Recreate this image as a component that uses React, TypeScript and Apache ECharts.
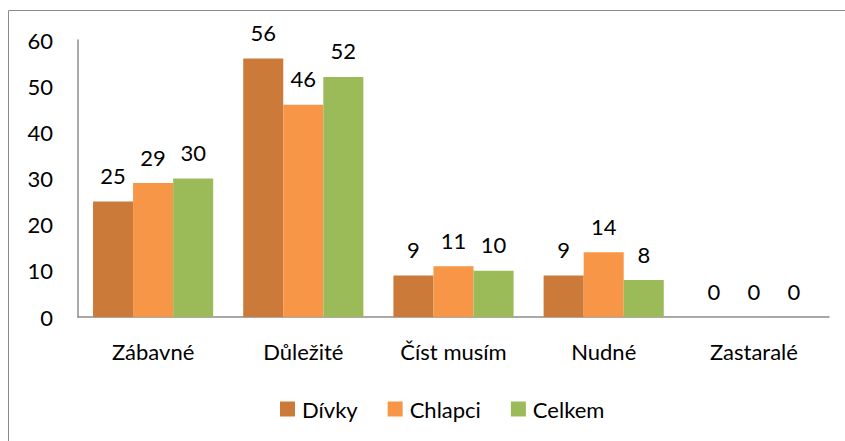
import React, { useEffect, useRef } from "react";
import * as echarts from "echarts";

const categories = ["Zábavné", "Důležité", "Číst musím", "Nudné", "Zastaralé"];
const divky = [25, 56, 9, 9, 0];
const chlapci = [29, 46, 11, 14, 0];
const celkem = [30, 52, 10, 8, 0];
const seriesNames = ["Dívky", "Chlapci", "Celkem"];
const colors = ["#CB7A3A", "#F79646", "#9BBB59"];

const FONT = "Lato, 'Noto Sans', sans-serif";
const FS = 22;

export default function App() {
  const ref = useRef<HTMLDivElement>(null);
  useEffect(() => {
    document.body.style.margin = "0";
    const chart = echarts.init(ref.current!, undefined, { renderer: "svg" });
    const data = [divky, chlapci, celkem];
    chart.setOption({
      animation: false,
      backgroundColor: "#ffffff",
      textStyle: { fontFamily: FONT },
      grid: { left: 78, right: 16, top: 40, bottom: 124 },
      legend: {
        bottom: 16,
        left: 275,
        itemWidth: 15,
        itemHeight: 15,
        itemGap: 30,
        icon: "rect",
        textStyle: { fontSize: FS, color: "#000", fontFamily: FONT, padding: [0, 0, 0, 2] },
        data: seriesNames,
      },
      xAxis: {
        type: "category",
        data: categories,
        axisLine: { lineStyle: { color: "#8c8c8c", width: 1.5 } },
        axisTick: { show: false },
        axisLabel: { fontSize: FS, color: "#000", margin: 23, fontFamily: FONT },
      },
      yAxis: {
        type: "value",
        min: 0,
        max: 60,
        interval: 10,
        axisLine: { show: true, lineStyle: { color: "#8c8c8c", width: 1.5 } },
        axisTick: { show: false },
        splitLine: { show: false },
        axisLabel: { fontSize: FS, color: "#000", margin: 25, fontFamily: FONT },
      },
      series: seriesNames.map((name, i) => ({
        name,
        type: "bar",
        data: data[i],
        barGap: "0%",
        barCategoryGap: "20%",
        itemStyle: { color: colors[i] },
        label: {
          show: true,
          position: "top",
          distance: 15,
          fontSize: FS,
          color: "#000",
          fontFamily: FONT,
        },
      })),
      graphic: [
        {
          type: "rect",
          shape: { x: 8.5, y: 10.5, width: 860, height: 460 },
          style: { fill: "none", stroke: "#8c8c8c", lineWidth: 1 },
          silent: true,
          z: -1,
        },
      ],
    });
    return () => chart.dispose();
  }, []);
  return <div ref={ref} style={{ width: 845, height: 441 }} />;
}
